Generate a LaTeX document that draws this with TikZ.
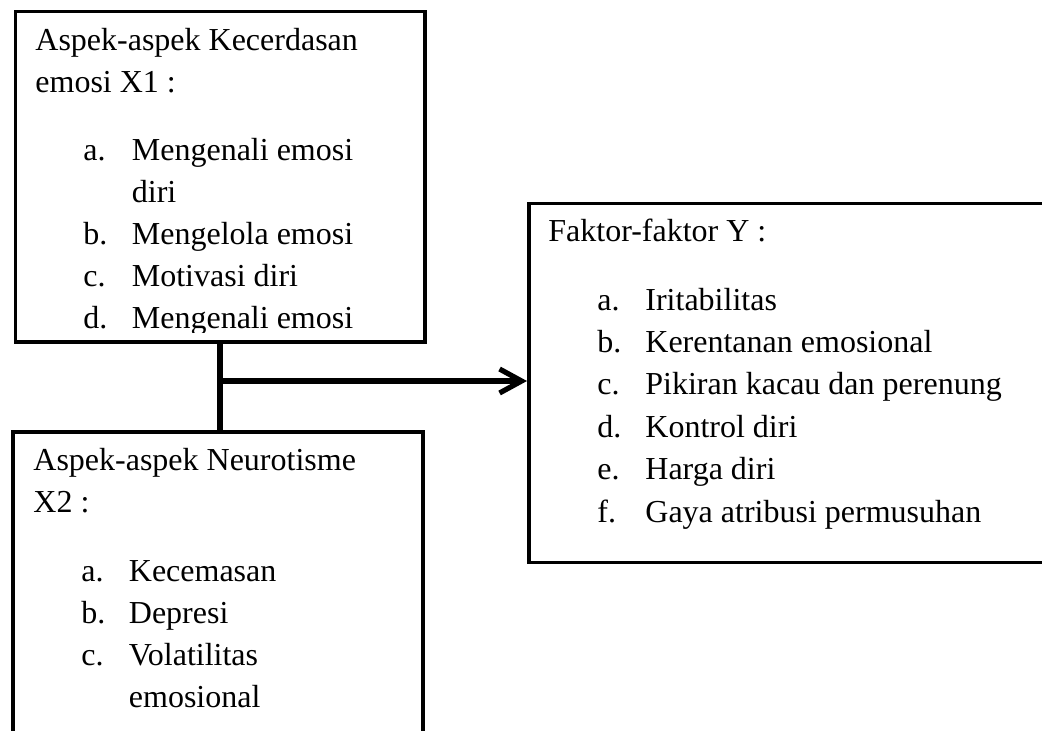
\documentclass[tikz,border=0pt]{standalone}
\usepackage{fontspec}
\setmainfont{Liberation Serif}
\usetikzlibrary{arrows.meta,positioning}

\begin{document}
\begin{tikzpicture}[x=0.5pt,y=-0.5pt,
  box/.style={draw,line width=1.75pt,anchor=north west,inner sep=0pt},
  txt/.style={anchor=base west,inner sep=0pt,font=\fontsize{16}{19}\selectfont},
  link/.style={line width=2.6pt}]
  \useasboundingbox (0,0) rectangle (1042,730);
  \clip (0,0) rectangle (1042,730);
  % boxes
  \node[box,minimum width=204.65pt,minimum height=165.25pt] (x1) at (13.7,9.5) {};
  \node[box,minimum width=204.85pt,minimum height=185pt] (x2) at (11.3,430) {};
  \node[box,minimum width=286.5pt,minimum height=179.4pt] (y) at (527,201.7) {};
  % X1 text, cut off at the bottom
  \begin{scope}
    \clip (x1.north west) rectangle (423,332);
    \node[txt] (x1-h1) at (35,50) {Aspek-aspek Kecerdasan};
    \node[txt] (x1-h2) at (35,92) {emosi X1 :};
    \foreach \yy/\lab/\entry [count=\i] in {160/a./Mengenali emosi,244.4/b./Mengelola emosi,286.6/c./Motivasi diri,328.8/d./Mengenali emosi} {
      \node[txt] (x1-l\i) at (83,\yy) {\lab};
      \node[txt] (x1-t\i) at (131.5,\yy) {\entry};
    }
    \node[txt] (x1-t1b) at (131.5,202.2) {diri};
  \end{scope}
  % X2 text
  \node[txt] (x2-h1) at (33,470) {Aspek-aspek Neurotisme};
  \node[txt] (x2-h2) at (33,512) {X2 :};
  \foreach \yy/\lab/\entry [count=\i] in {581/a./Kecemasan,623/b./Depresi,665/c./Volatilitas} {
    \node[txt] (x2-l\i) at (81,\yy) {\lab};
    \node[txt] (x2-t\i) at (128.5,\yy) {\entry};
  }
  \node[txt] (x2-t3b) at (128.5,707) {emosional};
  % Y text
  \node[txt] (y-h1) at (548,241.7) {Faktor-faktor Y :};
  \foreach \yy/\lab/\entry [count=\i] in {310/a./Iritabilitas,352.4/b./Kerentanan emosional,394.8/c./Pikiran kacau dan perenung,437.2/d./Kontrol diri,479.6/e./Harga diri,522/f./Gaya atribusi permusuhan} {
    \node[txt] (y-l\i) at (597,\yy) {\lab};
    \node[txt] (y-t\i) at (645,\yy) {\entry};
  }
  % connectors
  \coordinate (jn) at (220,381);
  \draw[link] (x1.south -| jn) -- (x2.north -| jn);
  \draw[link,-{Straight Barb[length=11pt,width=12pt]}] (jn) -- (jn -| y.west);
\end{tikzpicture}
\end{document}
